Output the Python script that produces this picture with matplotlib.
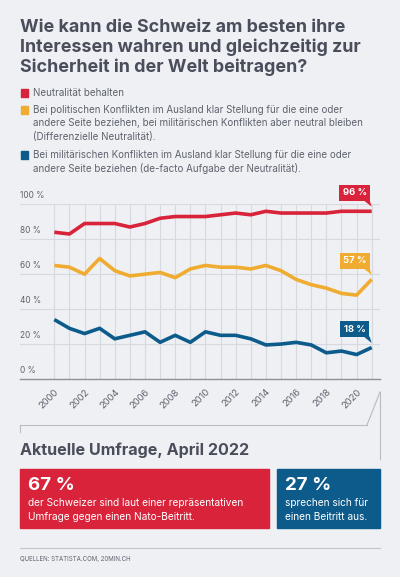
import matplotlib.pyplot as plt
import matplotlib.transforms as transforms
from matplotlib.patches import Rectangle, Polygon
from matplotlib.lines import Line2D

plt.rcParams['font.family'] = ['Inter', 'DejaVu Sans']

years = list(range(2000, 2022))
neutral = [84, 83, 89, 89, 89, 87, 89, 92, 93, 93, 93, 94, 95, 94, 96, 95, 95, 95, 95, 96, 96, 96]
differenziell = [65, 64, 60, 69, 62, 59, 60, 61, 58, 63, 65, 64, 64, 63, 65, 62, 57, 54, 52, 49, 48, 57]
aufgabe = [34, 29, 26, 29, 23, 25, 27, 21, 25, 21, 27, 25, 25, 23, 19.5, 20, 21, 19.5, 15, 16, 14, 18]
end_labels = ['96 %', '57 %', '18 %']

legend_lines = [
    ['Neutralität behalten'],
    ['Bei politischen Konflikten im Ausland klar Stellung für die eine oder',
     'andere Seite beziehen, bei militärischen Konflikten aber neutral bleiben',
     '(Differenzielle Neutralität).'],
    ['Bei militärischen Konflikten im Ausland klar Stellung für die eine oder',
     'andere Seite beziehen (de-facto Aufgabe der Neutralität).'],
]

RED = '#d8233a'
ORANGE = '#f0ac30'
BLUE = '#0d5b8b'
BG = '#eef0f4'
DARK = '#4a4e5b'
GREY = '#5f636d'

W, H = 400, 577
fig = plt.figure(figsize=(W / 100, H / 100), dpi=100, facecolor=BG)


def fx(px):
    return px / W


def fy(py):
    return 1 - py / H


# title
for i, line in enumerate(['Wie kann die Schweiz am besten ihre',
                          'Interessen wahren und gleichzeitig zur',
                          'Sicherheit in der Welt beitragen?']):
    fig.text(fx(20), fy(27 + 20 * i), line, fontsize=12.9, fontweight='bold',
             color=DARK, va='center', ha='left')

# legend
colors = [RED, ORANGE, BLUE]
starts = [93, 110, 155]
for col, y0, lines in zip(colors, starts, legend_lines):
    fig.patches.append(Rectangle((fx(21), fy(y0 + 4)), 7 / W, 8 / H,
                                 transform=fig.transFigure, color=col))
    for j, t in enumerate(lines):
        fig.text(fx(33), fy(y0 + 13.5 * j), t, fontsize=7.05, color=GREY,
                 va='center', ha='left')

# chart
ax = fig.add_axes([fx(20), fy(379), fx(380) - fx(20), fy(204.3) - fy(379)])
ax.set_facecolor(BG)
ax.set_xlim(1997.73, 2021.55)
ax.set_ylim(0, 100)
for s in ['top', 'right', 'left']:
    ax.spines[s].set_visible(False)
ax.spines['bottom'].set_color('#8d9098')
ax.spines['bottom'].set_linewidth(1.0)

for v in [20, 40, 60, 80, 100]:
    ax.axhline(v, color='#d6d9df', lw=0.8, zorder=0)
for yr in years:
    ax.plot([yr, yr], [0, 100], color='#d6d9df', lw=0.8, zorder=0)

ax.set_yticks([])
for v in [0, 20, 40, 60, 80, 100]:
    ax.annotate(f'{v} %', xy=(0, v), xycoords=('axes fraction', 'data'),
                xytext=(0, 3), textcoords='offset points', fontsize=6,
                color=GREY, ha='left', va='bottom')

ax.set_xticks(years[::2])
ax.set_xticklabels([str(y) for y in years[::2]], rotation=45, ha='right',
                   rotation_mode='anchor', fontsize=6.8, color=GREY)
ax.tick_params(axis='x', length=0, pad=6)

series = [neutral, differenziell, aufgabe]
for col, vals, lab in zip(colors, series, end_labels):
    ax.plot(years, vals, color=col, lw=2.6, solid_capstyle='butt',
            solid_joinstyle='round', zorder=3)
    x_end, y_end = years[-1], vals[-1]
    ax.annotate(lab, xy=(x_end, y_end), xytext=(-17 * 0.72, 18.5 * 0.72),
                textcoords='offset points', ha='center', va='center',
                fontsize=6.8, fontweight='bold', color='white',
                bbox=dict(boxstyle='square,pad=0.35', fc=col, ec='none'),
                annotation_clip=False, zorder=5)
    tr = fig.dpi_scale_trans + transforms.ScaledTranslation(x_end, y_end, ax.transData)
    tri = Polygon([(-8 / 100, 11 / 100), (-2 / 100, 11 / 100), (0, 4.5 / 100)],
                  closed=True, transform=tr, fc=col, ec='none', zorder=5,
                  clip_on=False)
    ax.add_patch(tri)

# bracket lines
lc = '#b8bbc2'
for xs, ys in [([380, 380], [392, 459]), ([380, 367], [392, 425]),
               ([367, 20], [425, 425]), ([20, 20], [425, 432])]:
    fig.lines.append(Line2D([fx(x) for x in xs], [fy(y) for y in ys],
                            transform=fig.transFigure, color=lc, lw=0.8))

# bottom section
fig.text(fx(20), fy(450), 'Aktuelle Umfrage, April 2022', fontsize=11.6,
         fontweight='bold', color=DARK, va='center', ha='left')

fig.patches.append(Rectangle((fx(20), fy(528)), 249 / W, 59 / H,
                             transform=fig.transFigure, color=RED))
fig.patches.append(Rectangle((fx(277), fy(528)), 103 / W, 59 / H,
                             transform=fig.transFigure, color=BLUE))

fig.text(fx(28), fy(486), '67 %', fontsize=13.5, fontweight='bold',
         color='white', va='center', ha='left')
fig.text(fx(28), fy(502.5), 'der Schweizer sind laut einer repräsentativen',
         fontsize=7.3, color='white', va='center', ha='left')
fig.text(fx(28), fy(516.5), 'Umfrage gegen einen Nato-Beitritt.',
         fontsize=7.3, color='white', va='center', ha='left')

fig.text(fx(285), fy(486), '27 %', fontsize=13.5, fontweight='bold',
         color='white', va='center', ha='left')
fig.text(fx(285), fy(502.5), 'sprechen sich für',
         fontsize=7.3, color='white', va='center', ha='left')
fig.text(fx(285), fy(516.5), 'einen Beitritt aus.',
         fontsize=7.3, color='white', va='center', ha='left')

fig.lines.append(Line2D([fx(20), fx(380)], [fy(548), fy(548)],
                        transform=fig.transFigure, color='#c3c6cc', lw=0.8))
fig.text(fx(20), fy(559), 'QUELLEN: STATISTA.COM, 20MIN.CH', fontsize=4.4,
         color=GREY, va='center', ha='left')

fig.savefig('out.png', dpi=100, facecolor=BG)
